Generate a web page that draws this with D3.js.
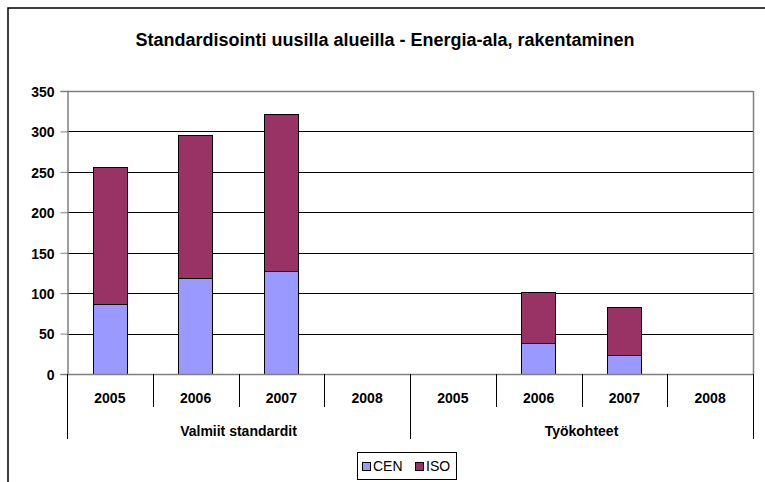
<!DOCTYPE html>
<html>
<head>
<meta charset="utf-8">
<script src="https://cdn.jsdelivr.net/npm/d3@7"></script>
<style>
  body { margin: 0; background: #fff; }
  text { font-family: "Liberation Sans", Arial, sans-serif; }
</style>
</head>
<body>
<script>
// chart data
const groups = ['Valmiit standardit', 'Työkohteet'];
const years = ['2005', '2006', '2007', '2008'];
const cen = [87, 119, 127, 0, 0, 38, 23, 0];
const iso = [169, 176, 194, 0, 0, 63, 60, 0];
const yTicks = [0, 50, 100, 150, 200, 250, 300, 350];
const seriesNames = ['CEN', 'ISO'];
const colors = ['#9999FF', '#993366'];

const width = 765, height = 482;
const plotL = 67, plotR = 753, plotT = 91, plotB = 374;

const svg = d3.select('body').append('svg')
    .attr('width', width)
    .attr('height', height);

// outer chart border (right/bottom fall outside the view)
svg.append('rect')
    .attr('x', 8).attr('y', 8)
    .attr('width', 800).attr('height', 520)
    .attr('fill', '#fff')
    .attr('stroke', '#000')
    .attr('stroke-width', 1.5);

svg.append('text')
    .attr('x', 385).attr('y', 46)
    .attr('text-anchor', 'middle')
    .attr('font-weight', 'bold')
    .attr('font-size', 18)
    .text('Standardisointi uusilla alueilla - Energia-ala, rakentaminen');

const keys = [];
groups.forEach(g => years.forEach(yr => keys.push(g + '|' + yr)));

const x = d3.scaleBand().domain(keys).range([plotL, plotR]).paddingInner(0).paddingOuter(0);
const y = d3.scaleLinear().domain([0, 350]).range([plotB, plotT]);

// gridlines
svg.append('g')
    .selectAll('line')
    .data(yTicks.filter(t => t > 0 && t < 350))
    .enter().append('line')
    .attr('x1', plotL).attr('x2', plotR)
    .attr('y1', d => Math.round(y(d)) + 0.5)
    .attr('y2', d => Math.round(y(d)) + 0.5)
    .attr('stroke', '#000');

// plot border top/right
svg.append('line')
    .attr('x1', plotL).attr('x2', plotR)
    .attr('y1', plotT + 0.5).attr('y2', plotT + 0.5)
    .attr('stroke', '#808080').attr('stroke-width', 1.5);
svg.append('line')
    .attr('x1', plotR + 0.5).attr('x2', plotR + 0.5)
    .attr('y1', plotT).attr('y2', plotB)
    .attr('stroke', '#808080').attr('stroke-width', 1.5);

// stacked bars
const rows = keys.map((k, i) => ({ key: k, CEN: cen[i], ISO: iso[i] }));
const stacked = d3.stack().keys(seriesNames)(rows);
const barW = x.bandwidth() * 0.4;

svg.append('g')
    .selectAll('g')
    .data(stacked)
    .enter().append('g')
    .attr('fill', (d, i) => colors[i])
    .selectAll('rect')
    .data(d => d.filter(p => p[1] > p[0]))
    .enter().append('rect')
    .attr('x', d => Math.round(x(d.data.key) + (x.bandwidth() - barW) / 2) + 0.5)
    .attr('y', d => Math.round(y(d[1])) + 0.5)
    .attr('width', Math.round(barW))
    .attr('height', d => Math.round(y(d[0])) - Math.round(y(d[1])))
    .attr('stroke', '#000')
    .attr('stroke-width', 1);

// y axis
const yAxis = svg.append('g')
    .attr('transform', `translate(${plotL + 0.5},0)`)
    .call(d3.axisLeft(y).tickValues(yTicks).tickSize(7).tickPadding(6));
yAxis.select('.domain').attr('stroke', '#808080').attr('stroke-width', 1.5);
yAxis.selectAll('.tick line').attr('stroke', '#808080');
yAxis.selectAll('.tick text')
    .attr('font-family', '"Liberation Sans", Arial, sans-serif')
    .attr('font-size', 14).attr('font-weight', 'bold').attr('fill', '#000')
    .attr('dy', '0.38em');

// x axis line
svg.append('line')
    .attr('x1', plotL).attr('x2', plotR + 1)
    .attr('y1', plotB + 0.5).attr('y2', plotB + 0.5)
    .attr('stroke', '#808080').attr('stroke-width', 1.5);

// year separators and labels
const sep = svg.append('g');
keys.forEach((k, i) => {
    const xs = Math.round(x(k)) + 0.5;
    const isGroupEdge = i % years.length === 0;
    sep.append('line')
        .attr('x1', xs).attr('x2', xs)
        .attr('y1', plotB).attr('y2', isGroupEdge ? 439 : 407)
        .attr('stroke', '#000');
    sep.append('text')
        .attr('x', x(k) + x.bandwidth() / 2)
        .attr('y', 403)
        .attr('text-anchor', 'middle')
        .attr('font-size', 14).attr('font-weight', 'bold')
        .text(k.split('|')[1]);
});
sep.append('line')
    .attr('x1', plotR + 0.5).attr('x2', plotR + 0.5)
    .attr('y1', plotB).attr('y2', 439)
    .attr('stroke', '#000');

groups.forEach(g => {
    const k0 = g + '|' + years[0];
    const k1 = g + '|' + years[years.length - 1];
    sep.append('text')
        .attr('x', (x(k0) + x(k1) + x.bandwidth()) / 2)
        .attr('y', 436)
        .attr('text-anchor', 'middle')
        .attr('font-size', 14).attr('font-weight', 'bold')
        .text(g);
});

// legend
const leg = svg.append('g').attr('transform', 'translate(357,452)');
leg.append('rect')
    .attr('x', 0.5).attr('y', 0.5)
    .attr('width', 99).attr('height', 27)
    .attr('fill', '#fff').attr('stroke', '#000');
seriesNames.forEach((s, i) => {
    const lx = 5 + i * 53;
    leg.append('rect')
        .attr('x', lx + 0.5).attr('y', 10.5)
        .attr('width', 8).attr('height', 8)
        .attr('fill', colors[i]).attr('stroke', '#000');
    leg.append('text')
        .attr('x', lx + 11).attr('y', 19)
        .attr('font-size', 14)
        .text(s);
});
</script>
</body>
</html>
